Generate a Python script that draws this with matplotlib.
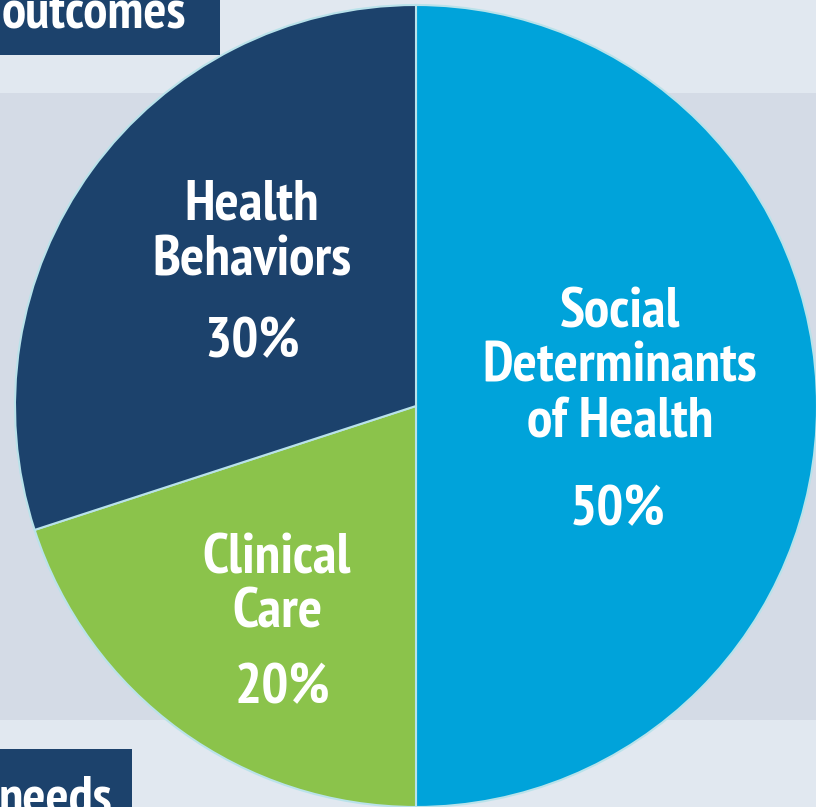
import matplotlib.pyplot as plt
from matplotlib.patches import Rectangle

labels = [["Social", "Determinants", "of Health"], ["Clinical", "Care"], ["Health", "Behaviors"]]
shares = [50, 20, 30]
colors = ["#00a3da", "#8bc34b", "#1c426c"]
# label anchor: pixel x, baseline of first line, baseline of percent
label_pos = [(620, 327, 525), (277, 573, 703), (252, 220, 357)]
pct_x_shift = [-2, 5, 0]

W, H = 816, 807
LINE = 55
fig = plt.figure(figsize=(W / 100, H / 100), dpi=100)
fig.patch.set_facecolor("#e1e8f0")
ax = fig.add_axes([0, 0, 1, 1])

font = ["PT Sans Narrow", "Fira Sans Condensed", "Roboto Condensed", "DejaVu Sans"]

# grey band behind the pie
ax.add_patch(Rectangle((0, H - 720), W, 627, facecolor="#d4dbe6", edgecolor="none", zorder=0))

# navy boxes cut by the frame
ax.add_patch(Rectangle((0, H - 55), 220, 55, facecolor="#1c426c", edgecolor="none", zorder=1))
ax.text(2, H - 28, "outcomes", color="white", fontsize=39, fontweight="bold",
        family=font, ha="left", va="baseline", zorder=2)
ax.add_patch(Rectangle((0, 0), 132, H - 749, facecolor="#1c426c", edgecolor="none", zorder=1))
ax.text(-1, H - 814, "needs", color="white", fontsize=39, fontweight="bold",
        family=font, ha="left", va="baseline", zorder=2)

ax.pie(shares, colors=colors, startangle=90, counterclock=False,
       center=(416, H - 406), radius=401, frame=True,
       wedgeprops=dict(edgecolor="#b9e2ea", linewidth=1.5, zorder=3))
ax.set_xlim(0, W)
ax.set_ylim(0, H)
ax.axis("off")

for lines, share, (x, y0, yp), dx in zip(labels, shares, label_pos, pct_x_shift):
    for i, line in enumerate(lines):
        ax.text(x, H - (y0 + i * LINE), line, color="white", fontsize=41, fontweight="bold",
                family=font, ha="center", va="baseline", zorder=4)
    ax.text(x + dx, H - yp, f"{share}%", color="white", fontsize=41, fontweight="bold",
            family=font, ha="center", va="baseline", zorder=4)

fig.savefig("out.png", dpi=100, facecolor=fig.get_facecolor())
